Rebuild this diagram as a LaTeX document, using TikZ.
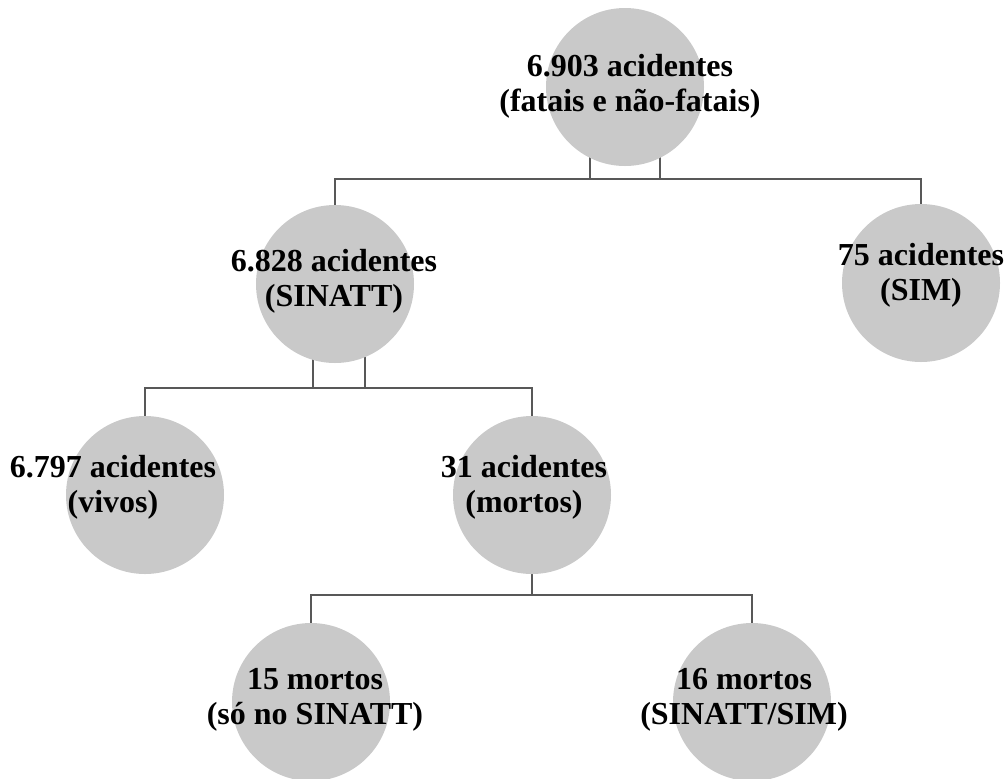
\documentclass[tikz,border=0pt]{standalone}
\usepackage{fontspec}
\setmainfont{Liberation Serif}
\usetikzlibrary{positioning, backgrounds}
\definecolor{ballgray}{RGB}{201,201,201}
\definecolor{linkgray}{RGB}{88,88,88}
\tikzset{
    ball/.style={circle, fill=ballgray, inner sep=0pt, minimum size=79pt},
    txt/.style={font=\fontsize{16}{17.5}\selectfont\bfseries, align=center, inner sep=0pt},
    link/.style={draw=linkgray, line width=1.4pt}
}

\begin{document}
\begin{tikzpicture}[x=0.5pt, y=-0.5pt]
    \useasboundingbox (0,0) rectangle (1006,778);

    % --- Circles ---
    \node[ball] (root) at (625,87) {};
    \node[ball] (sinatt) at (335,284) {};
    \node[ball] (sim) at (921,283) {};
    \node[ball] (vivos) at (145,495) {};
    \node[ball] (mortos) at (532,495) {};
    \node[ball] (sosinatt) at (311,702) {};
    \node[ball] (ambos) at (752,702) {};

    % --- Texts ---
    \node[txt] (root-t) at (630,86) {6.903 acidentes\\(fatais e não-fatais)};
    \node[txt] (sinatt-t) at (334,281) {6.828 acidentes\\(SINATT)};
    \node[txt] (sim-t) at (921,275) {75 acidentes\\(SIM)};
    \node[txt] (vivos-t) at (113,487) {6.797 acidentes\\(vivos)};
    \node[txt] (mortos-t) at (524,487) {31 acidentes\\(mortos)};
    \node[txt] (sosinatt-t) at (315,700) {15 mortos\\(só no SINATT)};
    \node[txt] (ambos-t) at (744,700) {16 mortos\\(SINATT/SIM)};

    % --- Bus points ---
    \coordinate (bus1) at (625,179);
    \coordinate (bus2) at (335,388);
    \coordinate (bus3) at (532,595);

    % --- Connectors (behind the circles) ---
    \begin{scope}[on background layer]
        \draw[link] ([xshift=-17.5pt]root.center) |- (bus1) -| (sinatt.center);
        \draw[link] ([xshift=17.5pt]root.center) |- (bus1) -| (sim.center);
        \draw[link] ([xshift=-11pt]sinatt.center) |- (bus2) -| (vivos.center);
        \draw[link] ([xshift=15pt]sinatt.center) |- (bus2) -| (mortos.center);
        \draw[link] (mortos.center) |- (bus3) -| (sosinatt.center);
        \draw[link] (mortos.center) |- (bus3) -| (ambos.center);
    \end{scope}

\end{tikzpicture}
\end{document}
